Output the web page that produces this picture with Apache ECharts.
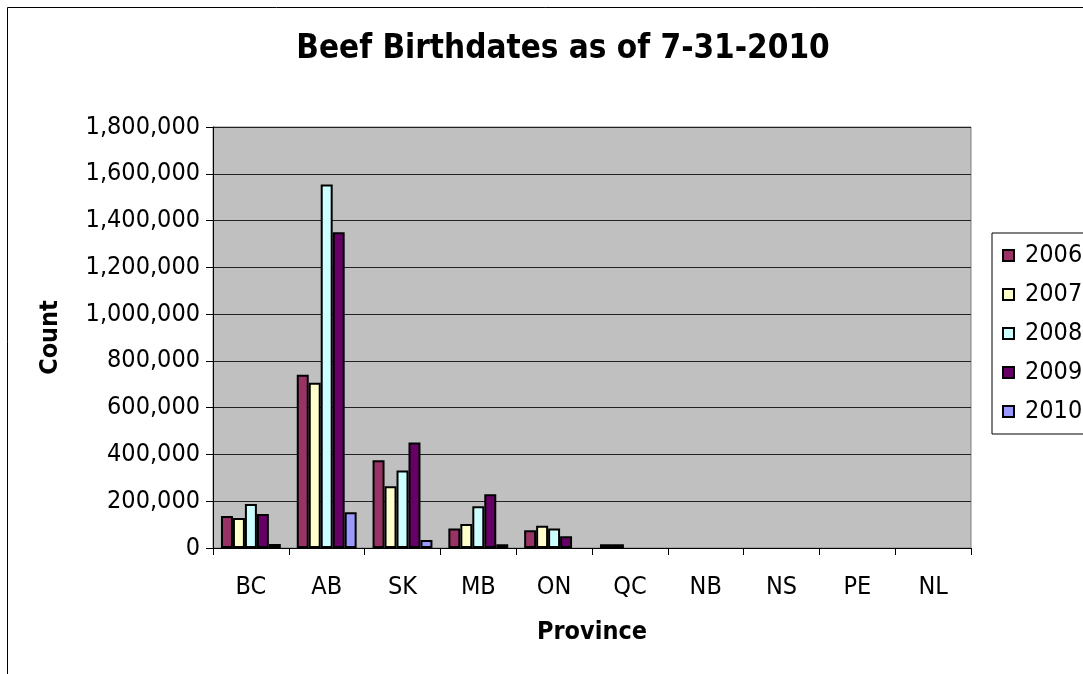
<!DOCTYPE html>
<html>
<head>
<meta charset="utf-8">
<script src="https://cdn.jsdelivr.net/npm/echarts@6/dist/echarts.min.js"></script>
<style>
html,body{margin:0;padding:0;background:#fff;}
#chart{width:1083px;height:674px;}
</style>
</head>
<body>
<div id="chart"></div>
<script>
const provinces = ['BC','AB','SK','MB','ON','QC','NB','NS','PE','NL'];
const y2006 = [137000, 741000, 375000, 83000, 76000, 16000, 0, 0, 0, 0];
const y2007 = [128000, 706000, 264000, 103000, 95000, 16000, 0, 0, 0, 0];
const y2008 = [188000, 1554000, 331000, 179000, 83000, 0, 0, 0, 0, 0];
const y2009 = [145000, 1350000, 451000, 230000, 50000, 0, 0, 0, 0, 0];
const y2010 = [17000, 153000, 34000, 16000, 0, 0, 0, 0, 0, 0];
const seriesNames = ['2006','2007','2008','2009','2010'];
const seriesData = [y2006, y2007, y2008, y2009, y2010];
const colors = ['#993366','#FFFFCC','#CCFFFF','#660066','#9999FF'];

const FONT = "'DejaVu Sans Condensed', 'DejaVu Sans', sans-serif";

const chart = echarts.init(document.getElementById('chart'), null, {renderer: 'canvas'});
chart.setOption({
  animation: false,
  backgroundColor: '#ffffff',
  textStyle: {fontFamily: FONT},
  graphic: [{
    type: 'rect',
    shape: {x: 7.5, y: 7.5, width: 3000, height: 3000},
    style: {fill: 'none', stroke: '#000', lineWidth: 1},
    silent: true, z: -10
  }],
  title: {
    text: 'Beef Birthdates as of 7-31-2010',
    left: 558, top: 28, textAlign: 'center',
    textStyle: {fontFamily: FONT, fontSize: 33, fontWeight: 'bold', color: '#000'}
  },
  legend: {
    orient: 'vertical',
    left: 992, top: 233,
    padding: [10, 40, 10, 10],
    itemWidth: 11, itemHeight: 11,
    itemGap: 14,
    backgroundColor: '#fff',
    borderColor: '#000', borderWidth: 1,
    borderRadius: 0,
    icon: 'rect',
    textStyle: {fontFamily: FONT, fontSize: 25, color: '#000', padding: [0,0,0,6]},
    data: seriesNames
  },
  grid: {
    left: 213, right: 112, top: 127, bottom: 126,
    show: true, backgroundColor: '#C0C0C0', borderColor: '#808080', borderWidth: 1
  },
  xAxis: {
    type: 'category',
    data: provinces,
    boundaryGap: true,
    name: 'Province',
    nameLocation: 'middle',
    nameGap: 72,
    nameTextStyle: {fontFamily: FONT, fontSize: 25, fontWeight: 'bold', color: '#000'},
    axisLine: {lineStyle: {color: '#000', width: 1}},
    axisTick: {show: true, alignWithLabel: false, length: 7, lineStyle: {color: '#000'}},
    axisLabel: {fontFamily: FONT, fontSize: 25, color: '#000', margin: 27},
    splitLine: {show: false}
  },
  yAxis: {
    type: 'value',
    min: 0, max: 1800000, interval: 200000,
    name: 'Count',
    nameLocation: 'middle',
    nameRotate: 90,
    nameGap: 150,
    nameTextStyle: {fontFamily: FONT, fontSize: 25, fontWeight: 'bold', color: '#000'},
    axisLine: {show: true, lineStyle: {color: '#000', width: 1}},
    axisTick: {show: true, length: 7, lineStyle: {color: '#000'}},
    axisLabel: {
      fontFamily: FONT, fontSize: 25, color: '#000', margin: 13,
      formatter: v => v.toLocaleString('en-US')
    },
    splitLine: {show: true, lineStyle: {color: '#222', width: 1}}
  },
  series: seriesNames.map((n, i) => ({
    name: n,
    type: 'bar',
    data: seriesData[i].map(v => (v === 0 ? '-' : v)),
    barGap: '0%',
    barCategoryGap: '21%',
    itemStyle: {color: colors[i], borderColor: '#000', borderWidth: 2}
  }))
});
</script>
</body>
</html>
